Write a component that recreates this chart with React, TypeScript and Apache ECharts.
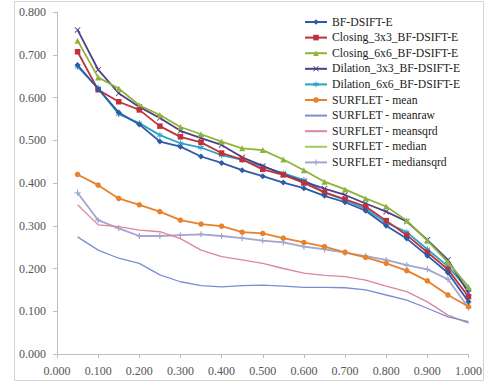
import React, { useEffect, useRef } from "react";
import * as echarts from "echarts";

const xValues = [0.05, 0.1, 0.15, 0.2, 0.25, 0.3, 0.35, 0.4, 0.45, 0.5, 0.55, 0.6, 0.65, 0.7, 0.75, 0.8, 0.85, 0.9, 0.95, 1.0];

const bfDsift = [0.676, 0.62, 0.565, 0.537, 0.497, 0.485, 0.462, 0.447, 0.43, 0.416, 0.401, 0.388, 0.37, 0.355, 0.335, 0.3, 0.27, 0.23, 0.19, 0.122];
const closing3 = [0.707, 0.618, 0.59, 0.571, 0.533, 0.508, 0.495, 0.47, 0.455, 0.432, 0.419, 0.4, 0.378, 0.362, 0.345, 0.312, 0.278, 0.238, 0.198, 0.134];
const closing6 = [0.733, 0.647, 0.621, 0.582, 0.559, 0.531, 0.514, 0.497, 0.481, 0.477, 0.455, 0.43, 0.403, 0.385, 0.364, 0.345, 0.312, 0.265, 0.215, 0.157];
const dilation3 = [0.758, 0.665, 0.61, 0.578, 0.552, 0.522, 0.505, 0.489, 0.46, 0.44, 0.42, 0.403, 0.387, 0.372, 0.352, 0.333, 0.31, 0.267, 0.22, 0.143];
const dilation6 = [0.672, 0.622, 0.561, 0.54, 0.512, 0.493, 0.483, 0.465, 0.454, 0.438, 0.423, 0.407, 0.378, 0.36, 0.34, 0.307, 0.285, 0.245, 0.205, 0.15];
const surfMean = [0.42, 0.395, 0.364, 0.349, 0.333, 0.313, 0.304, 0.299, 0.285, 0.282, 0.271, 0.261, 0.251, 0.238, 0.226, 0.212, 0.195, 0.171, 0.138, 0.111];
const surfMeanraw = [0.274, 0.243, 0.224, 0.212, 0.185, 0.169, 0.16, 0.157, 0.16, 0.161, 0.159, 0.156, 0.156, 0.155, 0.15, 0.138, 0.126, 0.107, 0.087, 0.076];
const surfMeansqrd = [0.349, 0.302, 0.298, 0.29, 0.286, 0.27, 0.243, 0.228, 0.22, 0.212, 0.2, 0.189, 0.184, 0.181, 0.173, 0.159, 0.146, 0.122, 0.091, 0.072];
const surfMedian: number[] = [];
const surfMediansqrd = [0.377, 0.313, 0.294, 0.276, 0.276, 0.278, 0.28, 0.276, 0.271, 0.265, 0.261, 0.251, 0.245, 0.237, 0.229, 0.22, 0.208, 0.198, 0.175, 0.108];

const seriesNames = [
  "BF-DSIFT-E",
  "Closing_3x3_BF-DSIFT-E",
  "Closing_6x6_BF-DSIFT-E",
  "Dilation_3x3_BF-DSIFT-E",
  "Dilation_6x6_BF-DSIFT-E",
  "SURFLET - mean",
  "SURFLET - meanraw",
  "SURFLET - meansqrd",
  "SURFLET - median",
  "SURFLET - mediansqrd",
];
const seriesValues = [bfDsift, closing3, closing6, dilation3, dilation6, surfMean, surfMeanraw, surfMeansqrd, surfMedian, surfMediansqrd];

const X_PATH = "path://M1,0 L5,4 L9,0 L10,1 L6,5 L10,9 L9,10 L5,6 L1,10 L0,9 L4,5 L0,1 Z";
const PLUS_PATH = "path://M4,0 H6 V4 H10 V6 H6 V10 H4 V6 H0 V4 H4 Z";
const STAR_PATH = "path://M4.2,0 H5.8 V3.6 L9,1.8 L9.8,3.2 L6.6,5 L9.8,6.8 L9,8.2 L5.8,6.4 V10 H4.2 V6.4 L1,8.2 L0.2,6.8 L3.4,5 L0.2,3.2 L1,1.8 L4.2,3.6 Z";

const styles = [
  { color: "#2E5AA6", symbol: "diamond", size: 6, width: 1.8 },
  { color: "#C0303A", symbol: "rect", size: 5.5, width: 1.8 },
  { color: "#8DB33A", symbol: "triangle", size: 6, width: 1.8 },
  { color: "#4E3F86", symbol: X_PATH, size: 6, width: 1.8 },
  { color: "#2BA3C4", symbol: STAR_PATH, size: 6, width: 1.8 },
  { color: "#E8822A", symbol: "circle", size: 5.5, width: 1.8 },
  { color: "#7C8ED2", symbol: "none", size: 0, width: 1.3 },
  { color: "#DB869C", symbol: "none", size: 0, width: 1.3 },
  { color: "#A6C95A", symbol: "none", size: 0, width: 1.3 },
  { color: "#A4A4D0", symbol: PLUS_PATH, size: 6, width: 1.8 },
];

const FONT = "Liberation Serif";

export default function App() {
  const ref = useRef<HTMLDivElement>(null);
  useEffect(() => {
    if (!ref.current) return;
    const chart = echarts.init(ref.current, undefined, { renderer: "svg" });
    const series = seriesNames.map((name, i) => ({
      name,
      type: "line",
      data: seriesValues[i].map((v, k) => [xValues[k], v]),
      symbol: styles[i].symbol,
      symbolSize: styles[i].size,
      showSymbol: styles[i].symbol !== "none",
      lineStyle: { color: styles[i].color, width: styles[i].width },
      itemStyle: { color: styles[i].color },
      emphasis: { disabled: true },
      z: 10 - i,
    }));
    chart.setOption({
      animation: false,
      textStyle: { fontFamily: FONT },
      grid: { left: 57, right: 14, top: 12, bottom: 29, containLabel: false },
      legend: {
        orient: "vertical",
        left: 299,
        top: 10,
        itemWidth: 22,
        itemHeight: 7,
        itemGap: 1.6,
        textStyle: { fontFamily: FONT, fontSize: 11.7, color: "#222", lineHeight: 14 },
        data: seriesNames.map((name, i) =>
          styles[i].symbol === "none" ? { name, itemStyle: { opacity: 0 } } : { name }
        ),
      },
      xAxis: {
        type: "value",
        min: 0,
        max: 1,
        interval: 0.1,
        axisLine: { show: true, lineStyle: { color: "#BFBFBF" } },
        axisTick: { show: true, length: 4, lineStyle: { color: "#BFBFBF" } },
        splitLine: { show: false },
        axisLabel: {
          formatter: (v: number) => v.toFixed(3),
          fontFamily: FONT,
          fontSize: 12,
          color: "#555",
          margin: 11,
        },
      },
      yAxis: {
        type: "value",
        min: 0,
        max: 0.8,
        interval: 0.1,
        axisLine: { show: true, lineStyle: { color: "#BFBFBF" } },
        axisTick: { show: true, length: 4, lineStyle: { color: "#BFBFBF" } },
        splitLine: { show: false },
        axisLabel: {
          formatter: (v: number) => v.toFixed(3),
          fontFamily: FONT,
          fontSize: 12,
          color: "#555",
          margin: 11,
        },
      },
      graphic: [
        {
          type: "rect",
          shape: { x: 14.5, y: 1.5, width: 469, height: 379 },
          style: { fill: "none", stroke: "#D4D4D4", lineWidth: 1 },
          silent: true,
        },
      ],
      series,
    });
    return () => chart.dispose();
  }, []);
  return (
    <div
      ref={ref}
      style={{ position: "fixed", left: 0, top: 0, width: 485, height: 383, background: "#fff" }}
    />
  );
}
